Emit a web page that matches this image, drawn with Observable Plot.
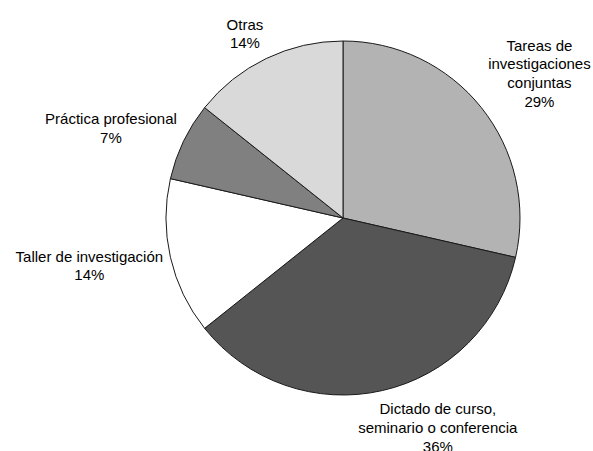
<!DOCTYPE html>
<html><head><meta charset="utf-8">
<script src="https://cdn.jsdelivr.net/npm/d3@7"></script>
<script src="https://cdn.jsdelivr.net/npm/@observablehq/plot@0.6"></script>
<style>html,body{margin:0;padding:0;background:#fff;}</style>
</head><body><div id="chart"></div>
<script>
// Data (clockwise from 12 o'clock)
const categories = ["Tareas de investigaciones conjuntas", "Dictado de curso, seminario o conferencia", "Taller de investigación", "Práctica profesional", "Otras"];
const labelLines = ["Tareas de\ninvestigaciones\nconjuntas", "Dictado de curso,\nseminario o conferencia", "Taller de investigación", "Práctica profesional", "Otras"];
const counts = [4, 5, 2, 1, 2];
const colors = ["#b3b3b3", "#555555", "#ffffff", "#808080", "#d9d9d9"];

// Layout
const W = 593, H = 451, CX = 343, CY = 218, R = 177;
const FONT = "'Liberation Sans', Arial, sans-serif";
const FONT_SIZE = 15, LINE_H = 18.7;

const total = d3.sum(counts);
const data = categories.map((c, i) => ({category: c, label: labelLines[i], count: counts[i]}));
const arcs = d3.pie().sort(null).value(d => d.count)(data);

const colorScale = Plot.scale({color: {type: "ordinal", domain: categories, range: colors}});

// label placement (Excel-like outside labels)
const ctx = document.createElement("canvas").getContext("2d");
ctx.font = `${FONT_SIZE}px 'Liberation Sans', Arial, sans-serif`;
const clamp = v => Math.max(-1, Math.min(1, v));
const labels = arcs.map(a => {
  const text = a.data.label + "\n" + Math.round(a.data.count / total * 100) + "%";
  const lines = text.split("\n");
  const w = d3.max(lines, l => ctx.measureText(l).width);
  const h = lines.length * LINE_H;
  const m = (a.startAngle + a.endAngle) / 2;
  const s = Math.sin(m), c = Math.cos(m);
  const D = R + 8;
  const px = D * s + (w / 2) * clamp(3 * s);
  const py = -D * c - (h / 2) * clamp(1.3 * c);
  return {text, x: px / R, y: -py / R};
});

function pieMark(index, scales) {
  const {x, y} = scales;
  const cx = x(0), cy = y(0), r = x(1) - x(0);
  const arc = d3.arc().innerRadius(0).outerRadius(r);
  const g = d3.create("svg:g").attr("transform", `translate(${cx},${cy})`);
  g.selectAll("path").data(arcs).join("path")
    .attr("d", arc)
    .attr("fill", d => colorScale.apply(d.data.category))
    .attr("stroke", "#1a1a1a")
    .attr("stroke-width", 1)
    .attr("stroke-linejoin", "round");
  return g.node();
}

const chart = Plot.plot({
  width: W, height: H, margin: 0,
  style: {fontFamily: FONT, fontSize: FONT_SIZE + "px", background: "#fff", color: "#000"},
  x: {domain: [-CX / R, (W - CX) / R], axis: null},
  y: {domain: [-(H - CY) / R, CY / R], axis: null},
  marks: [
    pieMark,
    Plot.text(labels, {x: "x", y: "y", text: "text", fontSize: FONT_SIZE, lineHeight: LINE_H / FONT_SIZE, textAnchor: "middle", fill: "#000", fontFamily: FONT})
  ]
});
document.getElementById("chart").appendChild(chart);
</script>
</body></html>
